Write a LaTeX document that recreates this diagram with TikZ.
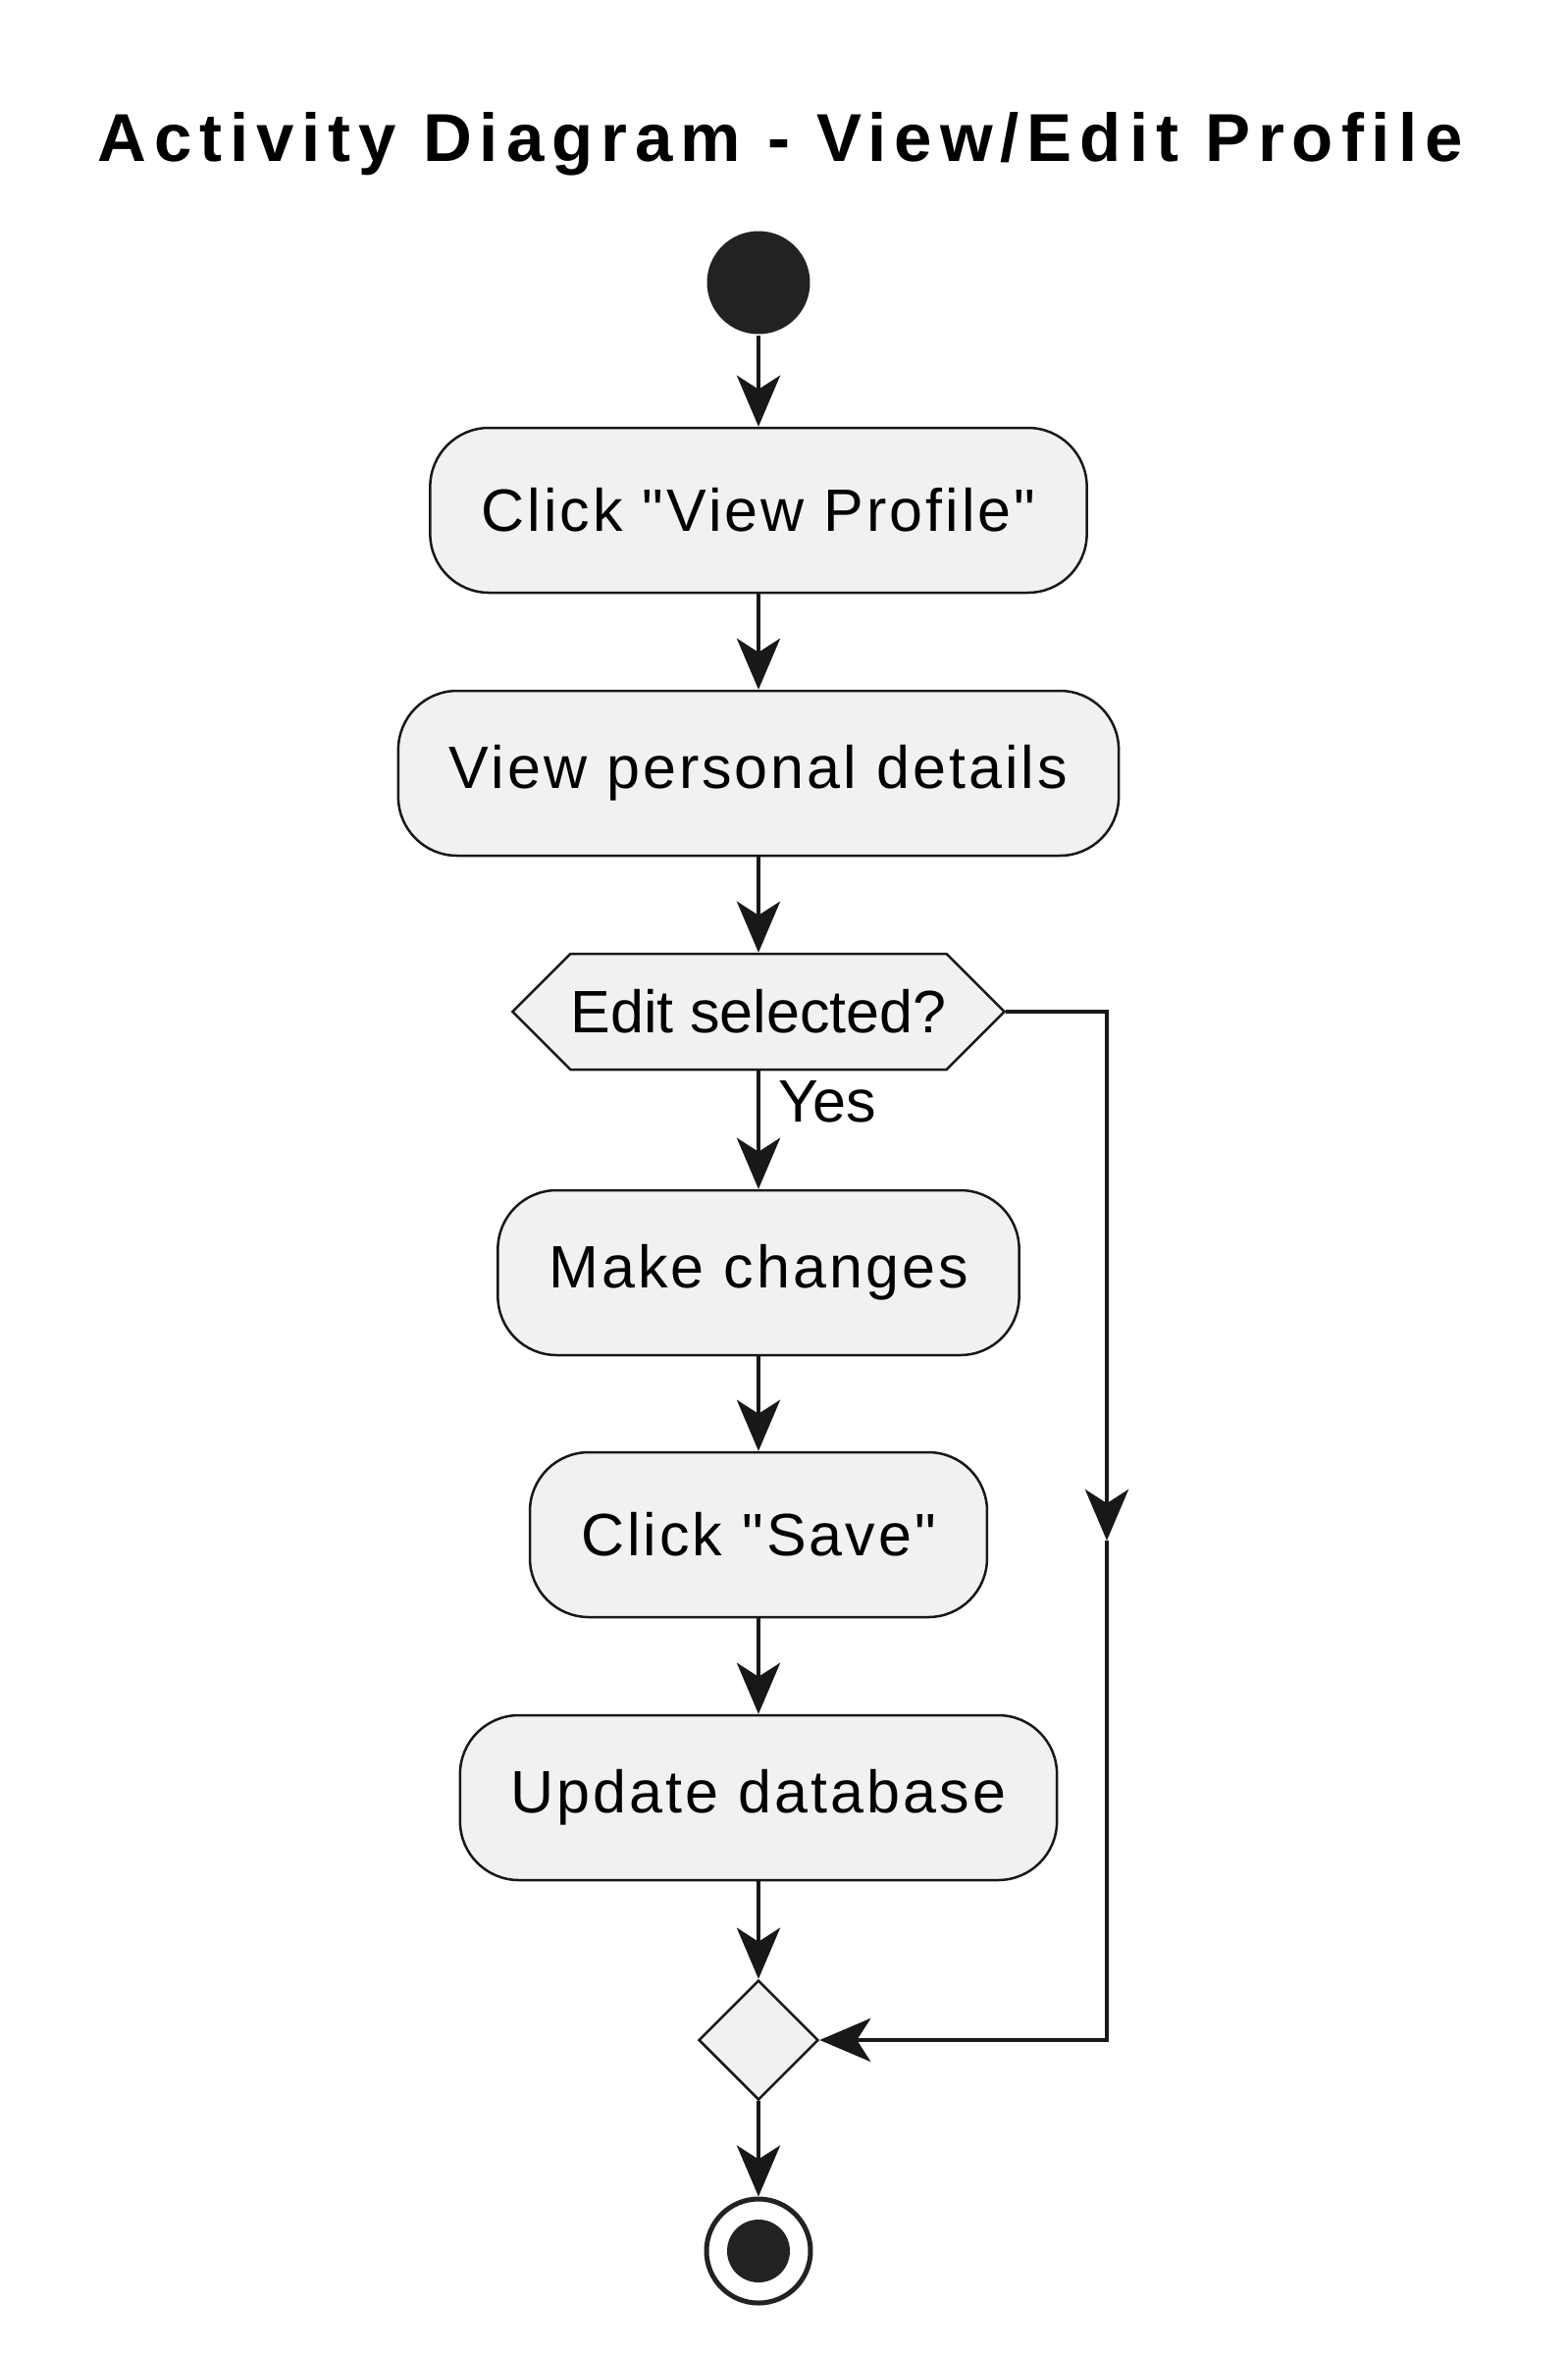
\documentclass[tikz,border=0pt]{standalone}
\usepackage{fontspec}
\setmainfont{Liberation Sans}
\newfontfamily\actfont{Liberation Sans}[LetterSpace=5]
\newfontfamily\hexfont{Liberation Sans}
\newfontfamily\titlefont{Liberation Sans}[LetterSpace=11.5]
\usetikzlibrary{arrows.meta,shapes.geometric,shapes.symbols}

\definecolor{actfill}{RGB}{241,241,241}
\definecolor{actline}{RGB}{24,24,24}
\definecolor{dotfill}{RGB}{34,34,34}

\tikzset{every picture/.style={line width=1.25pt}}
\tikzset{
  actbox/.style={draw=actline, fill=actfill, rounded corners=30pt, minimum height=84pt,
    inner xsep=26pt, font={\actfont\fontsize{30.5}{36}\selectfont}},
  hexbox/.style={shape=signal, signal to=west and east, signal pointer angle=90,
    draw=actline, fill=actfill, minimum height=59pt, inner xsep=0pt,
    font={\hexfont\fontsize{30.5}{36}\selectfont}},
  mergebox/.style={diamond, draw=actline, fill=actfill, minimum size=61pt, inner sep=0pt},
  startdot/.style={circle, fill=dotfill, minimum size=52.5pt, inner sep=0pt},
  stopdot/.style={circle, draw=dotfill, line width=2.5pt, minimum size=53pt, inner sep=0pt,
    path picture={\fill[dotfill] (path picture bounding box.center) circle (16pt);}},
  titletext/.style={anchor=base, inner sep=0pt, font={\titlefont\bfseries\fontsize{34.5}{40}\selectfont}},
  yeslabel/.style={pos=0.26, anchor=west, inner sep=0pt, xshift=9pt, font={\hexfont\fontsize{30.5}{36}\selectfont}},
  flow/.style={draw=actline, line width=2.4pt, -{Stealth[length=26pt, width=22pt, inset=7pt]}}
}

\begin{document}
\begin{tikzpicture}[x=0.5pt,y=0.5pt,yscale=-1]
\path[use as bounding box] (0,0) rectangle (1598,2400);

% Text Node
\node[titletext] (title) at (795,164) {Activity Diagram - View/Edit Profile};

% Text Node
\node[startdot] (start) at (773,288) {};
\node[actbox] (click) at (773,520) {Click "View Profile"};
\node[actbox] (details) at (773,788) {View personal details};
\node[hexbox] (edit) at (773,1031) {Edit selected?};
\node[actbox] (changes) at (773,1297) {Make changes};
\node[actbox] (save) at (773,1564) {Click "Save"};
\node[actbox] (update) at (773,1832) {Update database};
\node[mergebox] (merge) at (773,2079) {};
\node[stopdot] (stop) at (773,2294) {};
\coordinate (skip) at (1128,1570);

% Connection
\draw[flow] (start.south) -- (click.north);
\draw[flow] (click.south) -- (details.north);
\draw[flow] (details.south) -- (edit.north);
\draw[flow] (edit.south) -- node[yeslabel] {Yes} (changes.north);
\draw[flow] (changes.south) -- (save.north);
\draw[flow] (save.south) -- (update.north);
\draw[flow] (update.south) -- (merge.north);
\draw[flow] (merge.south) -- (stop.north);
% Connection
\draw[flow] (edit.east) -| (skip);
\draw[flow] (skip) |- (merge.east);

\end{tikzpicture}
\end{document}
